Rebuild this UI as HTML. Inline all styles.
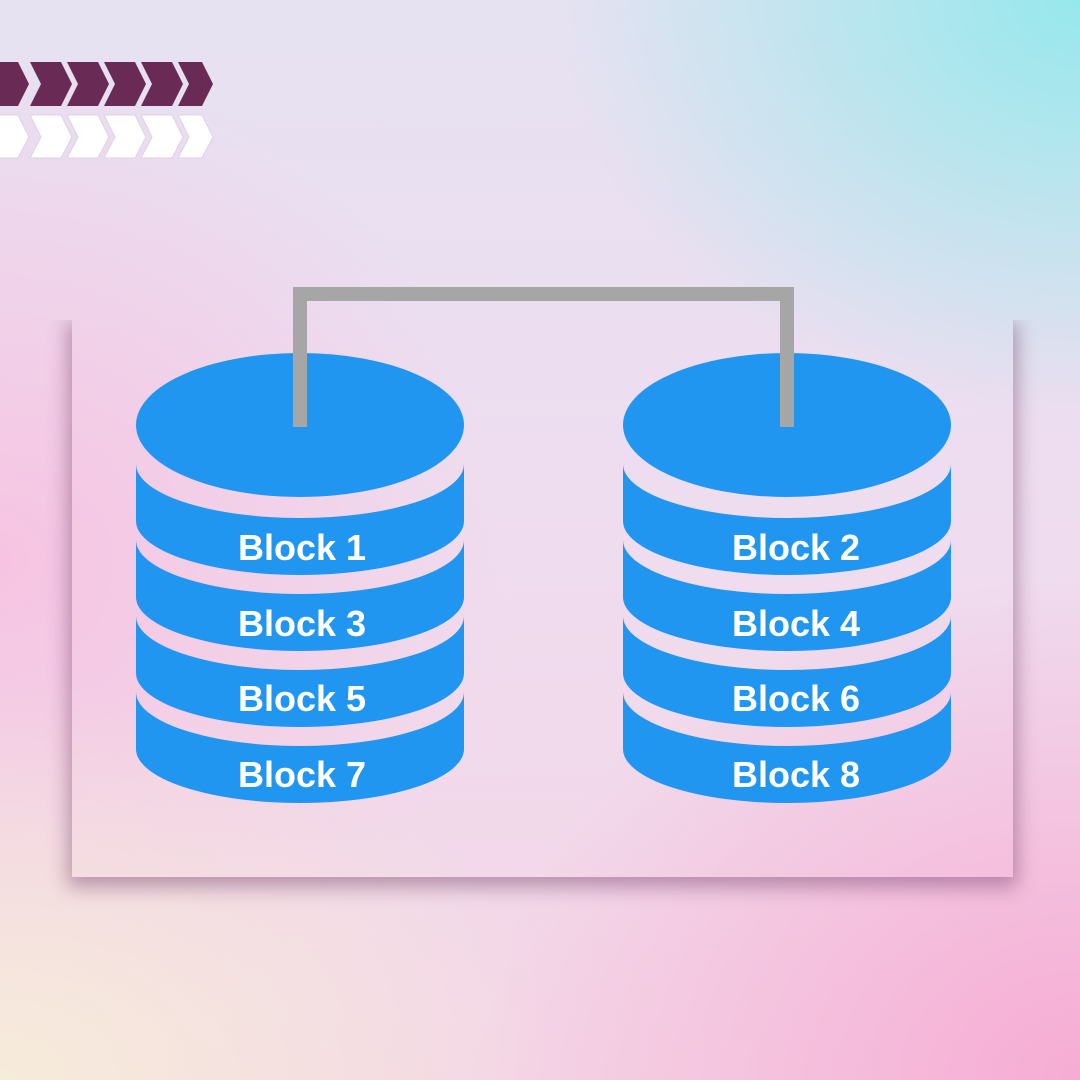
<!DOCTYPE html>
<html><head><meta charset="utf-8"><style>
html,body{margin:0;padding:0}
body{width:1080px;height:1080px;position:relative;overflow:hidden;
background:
radial-gradient(ellipse 520px 420px at 1080px 0px, rgba(150,232,236,1) 0%, rgba(150,232,236,0) 100%),
radial-gradient(ellipse 600px 500px at 1080px 1080px, rgba(246,172,212,1) 0%, rgba(246,172,212,0) 100%),
radial-gradient(ellipse 560px 400px at 0px 1080px, rgba(246,236,218,1) 0%, rgba(246,236,218,0) 100%),
radial-gradient(ellipse 500px 500px at 0px 560px, rgba(246,196,226,1) 0%, rgba(246,196,226,0) 100%),
linear-gradient(180deg,#e6e2f2 0%,#efdcef 50%,#f4d6e6 100%);
font-family:"Liberation Sans",sans-serif}
.panel{position:absolute;left:72px;top:320px;width:941px;height:557px;
box-shadow:0 6px 18px 4px rgba(110,60,100,0.45);clip-path:inset(0 -60px -60px -60px)}
svg{position:absolute;left:0;top:0}
</style></head><body>
<div class="panel"></div>
<svg width="1080" height="1080" viewBox="0 0 1080 1080">
<g fill="#6a2a56">
<polygon points="-10,62 18,62 29,84 18,106 -10,106"/>
<polygon points="30,62 61,62 72,84 61,106 30,106 41,84"/>
<polygon points="67,62 98,62 109,84 98,106 67,106 78,84"/>
<polygon points="104,62 135,62 146,84 135,106 104,106 115,84"/>
<polygon points="141,62 172,62 183,84 172,106 141,106 152,84"/>
<polygon points="178,62 202,62 213,84 202,106 178,106 189,84"/>
</g>
<g fill="#ffffff" stroke="#e0cfe6" stroke-width="1">
<polygon points="-10,115 18,115 29,137 18,158 -10,158"/>
<polygon points="30,115 61,115 72,137 61,158 30,158 41,137"/>
<polygon points="67,115 98,115 109,137 98,158 67,158 78,137"/>
<polygon points="104,115 135,115 146,137 135,158 104,158 115,137"/>
<polygon points="141,115 172,115 183,137 172,158 141,158 152,137"/>
<polygon points="178,115 202,115 213,137 202,158 178,158 189,137"/>
</g>
<g id="cyl" fill="#2196f0">
<ellipse cx="300" cy="425" rx="164" ry="72"/>
<path d="M136 464 A164 54 0 0 0 464 464 L464 521 A164 54 0 0 1 136 521 Z"/>
<path d="M136 540 A164 54 0 0 0 464 540 L464 597 A164 54 0 0 1 136 597 Z"/>
<path d="M136 616 A164 54 0 0 0 464 616 L464 673 A164 54 0 0 1 136 673 Z"/>
<path d="M136 692 A164 54 0 0 0 464 692 L464 749 A164 54 0 0 1 136 749 Z"/>
</g>
<use href="#cyl" x="487"/>
<polyline points="300,427 300,294 787,294 787,427" fill="none" stroke="#a6a6a6" stroke-width="14"/>
<g fill="#ffffff" font-family="Liberation Sans, sans-serif" font-weight="bold" font-size="36" text-anchor="middle">
<text x="302" y="560">Block 1</text>
<text x="302" y="636">Block 3</text>
<text x="302" y="711">Block 5</text>
<text x="302" y="787">Block 7</text>
<text x="796" y="560">Block 2</text>
<text x="796" y="636">Block 4</text>
<text x="796" y="711">Block 6</text>
<text x="796" y="787">Block 8</text>
</g>
</svg>
</body></html>
